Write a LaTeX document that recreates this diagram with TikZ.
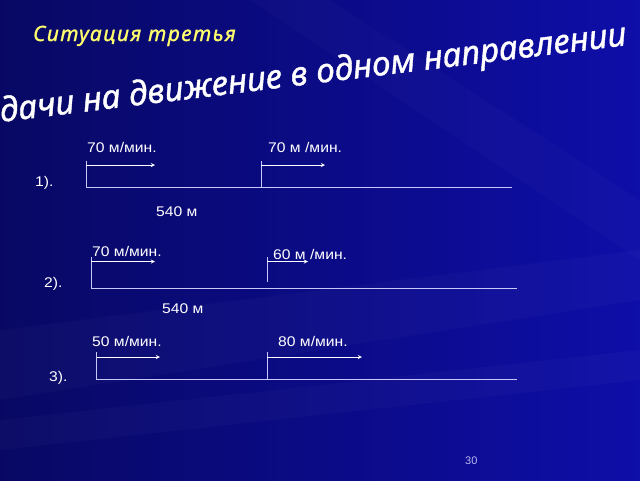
\documentclass[tikz,border=0pt]{standalone}
\usepackage{fontspec}
\setmainfont{Liberation Sans}
\newfontfamily\labelfont[FakeStretch=1.12]{Liberation Sans}
\newfontfamily\headfont[ItalicFeatures={FakeBold=1.2}]{Noto Sans}
\usepackage{xcolor}
\usetikzlibrary{arrows, positioning}

\definecolor{deepnavy}{RGB}{8,8,100}
\definecolor{slideblue}{RGB}{14,14,168}
\definecolor{headyellow}{RGB}{255,255,110}
\definecolor{axisline}{RGB}{200,200,248}
\definecolor{pagenum}{RGB}{185,185,240}

\begin{document}
\begin{tikzpicture}[
    x=1pt, y=-1pt,
    speed/.style={font=\labelfont\fontsize{14}{16}\selectfont, text=white, inner sep=0pt, anchor=base west},
    caseno/.style={font=\labelfont\fontsize{14}{16}\selectfont, text=white, inner sep=0pt, anchor=base west},
    axis/.style={draw=axisline, line width=0.9pt},
    arrow/.style={->, >=stealth, draw=white, line width=0.9pt}
]

% Background
\useasboundingbox (0,0) rectangle (640,480);
\shade[shading angle=120, left color=deepnavy, right color=slideblue] (0,0) rectangle (640,480);
\fill[white, opacity=0.025] (0,330) -- (640,250) -- (640,300) -- (0,400) -- cycle;
\fill[white, opacity=0.02] (250,0) -- (330,0) -- (640,200) -- (640,260) -- cycle;
\fill[white, opacity=0.025] (0,420) -- (640,350) -- (640,380) -- (0,450) -- cycle;

% Headings
\node[font=\headfont\itshape\addfontfeature{LetterSpace=7}\fontsize{21}{24}\selectfont, text=headyellow, inner sep=0pt, anchor=base west] (situation) at (33,41) {Ситуация третья};
\node[font=\headfont\itshape\fontsize{33.3}{37}\selectfont, text=white, inner sep=0pt, anchor=base west, rotate=7] (title) at (1,122) {дачи на движение в одном направлении};

% Situation 1
\coordinate (top1a) at (86,161);
\coordinate (bot1a) at (86,187);
\coordinate (end1) at (512,187);
\coordinate (top1b) at (261,161);
\coordinate (bot1b) at (261,187);
\coordinate (run1a) at (86,165);
\coordinate (tip1a) at (155,165);
\coordinate (run1b) at (261,165);
\coordinate (tip1b) at (325,165);
\node[speed] (v1a) at (87,152.7) {70 м/мин.};
\node[speed] (v1b) at (268,152.7) {70 м /мин.};
\node[caseno] (case1) at (35,186.7) {1).};
\node[speed] (dist1) at (156,216) {540 м};
\draw[axis] (top1a) -- (bot1a) -- (end1);
\draw[axis] (top1b) -- (bot1b);
\draw[arrow] (run1a) -- (tip1a);
\draw[arrow] (run1b) -- (tip1b);

% Situation 2
\coordinate (top2a) at (91,257);
\coordinate (bot2a) at (91,288.5);
\coordinate (end2) at (517,288.5);
\coordinate (top2b) at (267,257);
\coordinate (bot2b) at (267,282);
\coordinate (run2a) at (91,261.5);
\coordinate (tip2a) at (155,261.5);
\coordinate (run2b) at (267,261.5);
\coordinate (tip2b) at (308,261.5);
\node[speed] (v2a) at (92,256) {70 м/мин.};
\node[speed] (v2b) at (273,259.3) {60 м /мин.};
\node[caseno] (case2) at (44,287.5) {2).};
\node[speed] (dist2) at (162,313.3) {540 м};
\draw[axis] (top2a) -- (bot2a) -- (end2);
\draw[axis] (top2b) -- (bot2b);
\draw[arrow] (run2a) -- (tip2a);
\draw[arrow] (run2b) -- (tip2b);

% Situation 3
\coordinate (top3a) at (96.5,352);
\coordinate (bot3a) at (96.5,379);
\coordinate (end3) at (517,379);
\coordinate (top3b) at (267,352);
\coordinate (bot3b) at (267,379);
\coordinate (run3a) at (96.5,357);
\coordinate (tip3a) at (160,357);
\coordinate (run3b) at (267,357);
\coordinate (tip3b) at (362,357);
\node[speed] (v3a) at (92,346.7) {50 м/мин.};
\node[speed] (v3b) at (278,346.7) {80 м/мин.};
\node[caseno] (case3) at (49,381.7) {3).};
\draw[axis] (top3a) -- (bot3a) -- (end3);
\draw[axis] (top3b) -- (bot3b);
\draw[arrow] (run3a) -- (tip3a);
\draw[arrow] (run3b) -- (tip3b);

% Slide number
\node[font=\fontsize{11}{13}\selectfont, text=pagenum, inner sep=0pt, anchor=base west] (slideno) at (465,464) {30};

\end{tikzpicture}
\end{document}
